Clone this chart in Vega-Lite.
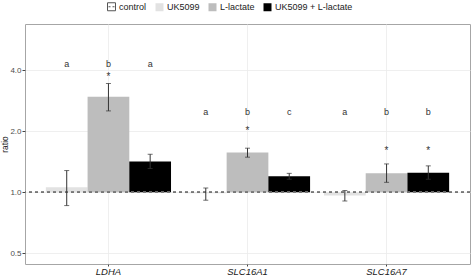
{
  "$schema": "https://vega.github.io/schema/vega-lite/v6.json",
  "autosize": {"type": "none"},
  "padding": {"left": 25, "top": 24, "right": 2, "bottom": 13},
  "width": 445,
  "height": 240,
  "config": {
    "font": "Liberation Sans",
    "view": {"stroke": "#a6a6a6", "strokeWidth": 1}
  },
  "data": {
    "values": [
      {"gene": "LDHA", "treatment": "UK5099", "value": 1.06, "lo": 0.86, "hi": 1.28, "letter": "a", "letterY": 4.29, "starY": null},
      {"gene": "LDHA", "treatment": "L-lactate", "value": 2.96, "lo": 2.52, "hi": 3.44, "letter": "b", "letterY": 4.29, "starY": 3.8},
      {"gene": "LDHA", "treatment": "UK5099 + L-lactate", "value": 1.42, "lo": 1.31, "hi": 1.54, "letter": "a", "letterY": 4.29, "starY": null},
      {"gene": "SLC16A1", "treatment": "UK5099", "value": 0.99, "lo": 0.914, "hi": 1.05, "letter": "a", "letterY": 2.49, "starY": null},
      {"gene": "SLC16A1", "treatment": "L-lactate", "value": 1.57, "lo": 1.49, "hi": 1.65, "letter": "b", "letterY": 2.49, "starY": 2.06},
      {"gene": "SLC16A1", "treatment": "UK5099 + L-lactate", "value": 1.2, "lo": 1.16, "hi": 1.24, "letter": "c", "letterY": 2.49, "starY": null},
      {"gene": "SLC16A7", "treatment": "UK5099", "value": 0.965, "lo": 0.906, "hi": 1.02, "letter": "a", "letterY": 2.49, "starY": null},
      {"gene": "SLC16A7", "treatment": "L-lactate", "value": 1.24, "lo": 1.12, "hi": 1.38, "letter": "b", "letterY": 2.49, "starY": 1.64},
      {"gene": "SLC16A7", "treatment": "UK5099 + L-lactate", "value": 1.25, "lo": 1.16, "hi": 1.35, "letter": "b", "letterY": 2.49, "starY": 1.64}
    ]
  },
  "encoding": {
    "x": {
      "field": "gene", "type": "nominal", "sort": ["LDHA", "SLC16A1", "SLC16A7"],
      "scale": {"paddingInner": 0.1, "paddingOuter": 0.15},
      "axis": {
        "title": null, "labelAngle": 0, "labelFontStyle": "italic", "labelFontSize": 9.5, "labelColor": "#1a1a1a",
        "domain": false, "grid": true, "gridColor": "#ebebeb", "gridWidth": 0.8, "bandPosition": 0.5,
        "tickSize": 2, "tickColor": "#444", "labelPadding": 0
      }
    },
    "xOffset": {
      "field": "treatment", "type": "nominal",
      "scale": {"domain": ["UK5099", "L-lactate", "UK5099 + L-lactate"], "paddingInner": 0, "paddingOuter": 0}
    }
  },
  "layer": [
    {
      "mark": {"type": "bar"},
      "encoding": {
        "y": {
          "field": "value", "type": "quantitative",
          "scale": {"type": "log", "base": 2, "domain": [0.443, 6.76], "nice": false, "zero": false},
          "axis": {
            "title": "ratio", "titleFontSize": 8.5, "titleFontWeight": "normal", "titleColor": "#1a1a1a", "titlePadding": 0,
            "values": [0.5, 1, 2, 4], "format": ".1f", "labelFontSize": 8, "labelColor": "#4d4d4d",
            "domain": false, "grid": true, "gridColor": "#ebebeb", "gridWidth": 0.8,
            "tickSize": 3, "tickColor": "#444", "labelPadding": 1
          }
        },
        "y2": {"datum": 1},
        "fill": {
          "field": "treatment", "type": "nominal",
          "scale": {"domain": ["control", "UK5099", "L-lactate", "UK5099 + L-lactate"], "range": ["#ffffff", "#e2e2e2", "#bdbdbd", "#000000"]},
          "legend": {
            "orient": "none", "legendX": 82, "legendY": -22, "direction": "horizontal", "title": null,
            "labelFontSize": 9, "labelColor": "#222", "symbolSize": 64, "symbolType": "square",
            "labelOffset": 3, "columnPadding": 8, "padding": 0,
            "encode": {
              "symbols": {
                "update": {
                  "shape": {"signal": "datum.value === 'control' ? 'M-1,-1H1V1H-1Z M-0.75,0H-0.25 M0.25,0H0.75' : 'square'"},
                  "stroke": {"signal": "datum.value === 'control' ? '#555' : 'transparent'"},
                  "strokeWidth": {"signal": "datum.value === 'control' ? 1 : 0"}
                }
              }
            }
          }
        }
      }
    },
    {
      "mark": {"type": "rule", "color": "#777", "strokeDash": [3, 3], "strokeWidth": 1},
      "encoding": {"y": {"datum": 1}, "x": null, "xOffset": null}
    },
    {
      "mark": {"type": "rule", "color": "#333", "strokeWidth": 1},
      "encoding": {"y": {"field": "lo", "type": "quantitative"}, "y2": {"field": "hi"}}
    },
    {
      "mark": {"type": "tick", "color": "#333", "size": 5, "thickness": 1},
      "encoding": {"y": {"field": "lo", "type": "quantitative"}}
    },
    {
      "mark": {"type": "tick", "color": "#333", "size": 5, "thickness": 1},
      "encoding": {"y": {"field": "hi", "type": "quantitative"}}
    },
    {
      "mark": {"type": "text", "fontSize": 9, "color": "#333", "baseline": "middle"},
      "encoding": {"y": {"field": "letterY", "type": "quantitative"}, "text": {"field": "letter"}}
    },
    {
      "transform": [{"filter": "datum.starY != null"}],
      "mark": {"type": "text", "fontSize": 10, "color": "#333", "baseline": "middle", "dy": 2},
      "encoding": {"y": {"field": "starY", "type": "quantitative"}, "text": {"value": "*"}}
    }
  ]
}
